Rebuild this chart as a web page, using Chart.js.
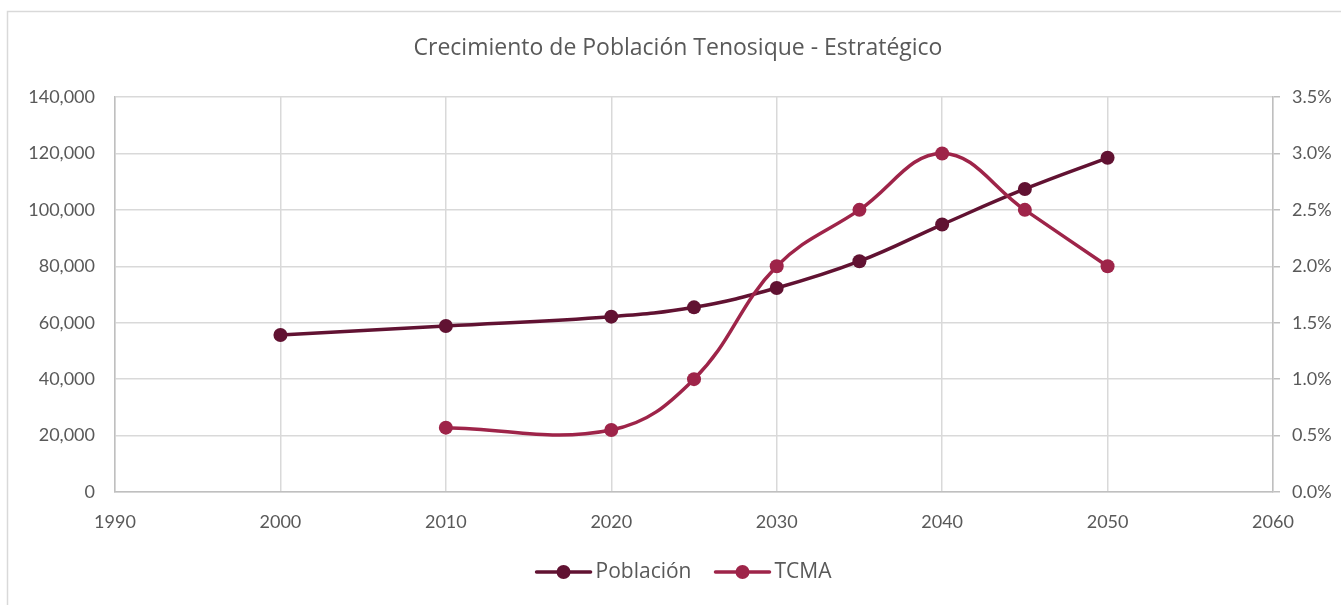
<!DOCTYPE html>
<html>
<head>
<meta charset="utf-8">
<script src="https://cdn.jsdelivr.net/npm/chart.js@4/dist/chart.umd.min.js"></script>
<style>
  html, body { margin: 0; padding: 0; background: #ffffff; }
  #wrap { width: 1341px; height: 605px; }
</style>
</head>
<body>
<div id="wrap"><canvas id="c" width="1341" height="605"></canvas></div>
<script>
// Population of Tenosique (strategic scenario) and its compound annual growth rate
const chartTitle = 'Crecimiento de Población Tenosique - Estratégico';
const popLabel = 'Población';
const rateLabel = 'TCMA';

const popYears = [2000, 2010, 2020, 2025, 2030, 2035, 2040, 2045, 2050];
const popValues = [55650, 58850, 62150, 65450, 72300, 81800, 94800, 107400, 118450];

const rateYears = [2010, 2020, 2025, 2030, 2035, 2040, 2045, 2050];
const rateValues = [0.57, 0.55, 1.0, 2.0, 2.5, 3.0, 2.5, 2.0]; // percent

const xTicks = [1990, 2000, 2010, 2020, 2030, 2040, 2050, 2060];
const popTicks = [0, 20000, 40000, 60000, 80000, 100000, 120000, 140000];
const rateTicks = [0, 0.5, 1.0, 1.5, 2.0, 2.5, 3.0, 3.5];

const popColor = '#611232';
const rateColor = '#9e2449';
const textColor = '#595959';
const gridColor = '#d9d9d9';
const axisColor = '#bfbfbf';
const fontFamily = 'Lato, "Open Sans", sans-serif';
const headFamily = '"Open Sans", Lato, sans-serif';

const toPoints = (xs, ys) => xs.map((x, i) => ({ x: x, y: ys[i] }));

// Outer frame around the whole chart
const framePlugin = {
  id: 'frame',
  beforeDraw(chart) {
    const ctx = chart.ctx;
    ctx.save();
    ctx.fillStyle = '#ffffff';
    ctx.fillRect(0, 0, chart.width, chart.height);
    ctx.strokeStyle = '#d9d9d9';
    ctx.lineWidth = 1.5;
    ctx.strokeRect(7.5, 11.5, chart.width + 20, chart.height + 20);
    ctx.restore();
  }
};

// Title and legend drawn at fixed spots
const textPlugin = {
  id: 'texts',
  afterDraw(chart) {
    const ctx = chart.ctx;
    ctx.save();
    ctx.fillStyle = textColor;
    ctx.font = '23px ' + headFamily;
    ctx.textAlign = 'center';
    ctx.textBaseline = 'middle';
    ctx.fillText(chartTitle, 678, 48);

    // legend
    ctx.font = '21px ' + headFamily;
    const items = chart.data.datasets
      .slice()
      .sort((a, b) => a.legendIndex - b.legendIndex)
      .map(d => ({ label: d.label, color: d.borderColor }));
    const lineLen = 54, gapText = 5, gapItem = 24;
    let total = 0;
    items.forEach((it, i) => {
      it.w = ctx.measureText(it.label).width;
      total += lineLen + gapText + it.w + (i < items.length - 1 ? gapItem : 0);
    });
    let x = 684 - total / 2;
    const y = 572;
    items.forEach(it => {
      ctx.strokeStyle = it.color;
      ctx.lineWidth = 3.5;
      ctx.lineCap = 'round';
      ctx.beginPath();
      ctx.moveTo(x, y);
      ctx.lineTo(x + lineLen, y);
      ctx.stroke();
      ctx.fillStyle = it.color;
      ctx.beginPath();
      ctx.arc(x + lineLen / 2, y, 7, 0, Math.PI * 2);
      ctx.fill();
      ctx.fillStyle = textColor;
      ctx.textAlign = 'left';
      ctx.fillText(it.label, x + lineLen + gapText, y);
      x += lineLen + gapText + it.w + gapItem;
    });
    ctx.restore();
  }
};

new Chart(document.getElementById('c'), {
  type: 'line',
  data: {
    datasets: [
      {
        label: popLabel,
        legendIndex: 0,
        data: toPoints(popYears, popValues),
        yAxisID: 'y',
        borderColor: popColor,
        backgroundColor: popColor,
        borderWidth: 3.5,
        pointRadius: 7,
        pointBorderWidth: 0,
        pointBackgroundColor: popColor,
        tension: 0.4,
        order: 2
      },
      {
        label: rateLabel,
        legendIndex: 1,
        data: toPoints(rateYears, rateValues),
        yAxisID: 'y1',
        borderColor: rateColor,
        backgroundColor: rateColor,
        borderWidth: 3.5,
        pointRadius: 7,
        pointBorderWidth: 0,
        pointBackgroundColor: rateColor,
        tension: 0.4,
        order: 1
      }
    ]
  },
  options: {
    responsive: false,
    devicePixelRatio: 1,
    animation: false,
    layout: { padding: { top: 97, bottom: 0, left: 0, right: 0 } },
    plugins: {
      legend: { display: false },
      title: { display: false },
      tooltip: { enabled: false }
    },
    scales: {
      x: {
        type: 'linear',
        min: xTicks[0],
        max: xTicks[xTicks.length - 1],
        afterBuildTicks: s => { s.ticks = xTicks.map(v => ({ value: v })); },
        afterFit: s => { s.height = 113; },
        ticks: {
          color: textColor,
          font: { family: fontFamily, size: 18 },
          padding: 19,
          maxRotation: 0,
          callback: v => String(v)
        },
        grid: { color: gridColor, lineWidth: 1.5, drawTicks: false },
        border: { color: axisColor, width: 1.5 }
      },
      y: {
        position: 'left',
        min: popTicks[0],
        max: popTicks[popTicks.length - 1],
        afterBuildTicks: s => { s.ticks = popTicks.map(v => ({ value: v })); },
        afterFit: s => { s.width = 115; },
        ticks: {
          color: textColor,
          font: { family: fontFamily, size: 18 },
          padding: 20,
          callback: v => v.toLocaleString('en-US')
        },
        grid: { color: gridColor, lineWidth: 1.5, drawTicks: false },
        border: { color: axisColor, width: 1.5 }
      },
      y1: {
        position: 'right',
        min: rateTicks[0],
        max: rateTicks[rateTicks.length - 1],
        afterBuildTicks: s => { s.ticks = rateTicks.map(v => ({ value: v })); },
        afterFit: s => { s.width = 68; },
        ticks: {
          color: textColor,
          font: { family: fontFamily, size: 18 },
          padding: 12,
          callback: v => v.toFixed(1) + '%'
        },
        grid: { drawOnChartArea: false, drawTicks: true, tickLength: 7, color: axisColor, lineWidth: 1.5 },
        border: { color: axisColor, width: 1.5 }
      }
    }
  },
  plugins: [framePlugin, textPlugin]
});
</script>
</body>
</html>
